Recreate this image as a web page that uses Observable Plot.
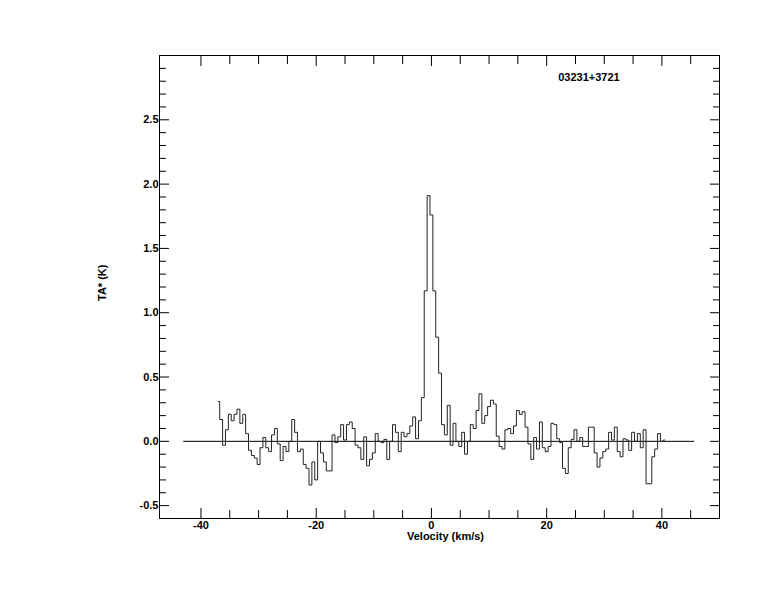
<!DOCTYPE html>
<html><head><meta charset="utf-8">
<script src="https://cdn.jsdelivr.net/npm/d3@7"></script>
<script src="https://cdn.jsdelivr.net/npm/@observablehq/plot@0.6"></script>
<style>html,body{margin:0;padding:0;background:#fff}</style>
</head><body><div id="chart"></div>
<script>
const title = "03231+3721";
const xLabel = "Velocity (km/s)";
const yLabel = "TA* (K)";

const velocity = [
 -37,-36.5,-36,-35.5,-35,-34.5,-34,-33.5,-33,-32.5,
 -32,-31.5,-31,-30.5,-30,-29.5,-29,-28.5,-28,-27.5,
 -27,-26.5,-26,-25.5,-25,-24.5,-24,-23.5,-23,-22.5,
 -22,-21.5,-21,-20.5,-20,-19.5,-19,-18.5,-18,-17.5,
 -17,-16.5,-16,-15.5,-15,-14.5,-14,-13.5,-13,-12.5,
 -12,-11.5,-11,-10.5,-10,-9.5,-9,-8.5,-8,-7.5,
 -7,-6.5,-6,-5.5,-5,-4.5,-4,-3.5,-3,-2.5,
 -2,-1.5,-1,-0.5,0,0.5,1,1.5,2,2.5,
 3,3.5,4,4.5,5,5.5,6,6.5,7,7.5,
 8,8.5,9,9.5,10,10.5,11,11.5,12,12.5,
 13,13.5,14,14.5,15,15.5,16,16.5,17,17.5,
 18,18.5,19,19.5,20,20.5,21,21.5,22,22.5,
 23,23.5,24,24.5,25,25.5,26,26.5,27,27.5,
 28,28.5,29,29.5,30,30.5,31,31.5,32,32.5,
 33,33.5,34,34.5,35,35.5,36,36.5,37,37.5,
 38,38.5,39,39.5,40,40.5
];
const antennaTemp = [
 0.31,0.17,-0.03,0.09,0.21,0.16,0.21,0.25,0.14,0.21,
 0.06,-0.07,-0.11,-0.13,-0.18,-0.05,0.03,-0.05,-0.08,0.05,
 0.10,-0.02,-0.15,-0.04,-0.08,0.00,0.17,0.07,-0.08,-0.06,
 -0.18,-0.21,-0.34,-0.16,-0.30,0.00,-0.09,-0.16,-0.23,-0.23,
 0.05,-0.01,0.035,0.13,0.01,0.13,0.15,0.10,-0.03,-0.05,
 -0.14,0.035,-0.19,-0.14,-0.09,0.06,0.00,-0.01,0.015,-0.14,
 0.00,0.13,0.07,-0.08,0.07,0.035,0.06,0.12,0.19,0.02,
 0.16,0.34,1.17,1.91,1.76,1.17,0.81,0.53,0.13,0.05,
 0.28,-0.03,0.14,0.00,-0.04,0.07,-0.10,0.00,0.13,0.10,
 0.24,0.37,0.14,0.20,0.27,0.32,0.29,0.04,-0.04,-0.06,
 0.09,0.10,0.06,0.12,0.24,0.21,0.23,0.11,-0.02,-0.14,
 0.03,-0.06,0.15,-0.05,-0.08,-0.04,0.14,0.13,0.02,-0.01,
 -0.21,-0.25,-0.05,0.015,0.09,0.00,0.03,-0.04,-0.04,0.11,
 0.11,-0.09,-0.20,-0.13,-0.08,-0.06,0.07,0.01,0.11,-0.08,
 -0.12,0.02,0.01,-0.07,0.07,0.00,0.06,-0.05,0.09,-0.33,
 -0.33,-0.12,-0.06,0.06,0.00,0.01
];

const xMajorTicks = [-40, -20, 0, 20, 40];
const xMinorTicks = [-35, -30, -25, -15, -10, -5, 5, 10, 15, 25, 30, 35, 45];
const yMajorTicks = [-0.5, 0, 0.5, 1, 1.5, 2, 2.5];
const yMinorTicks = [-0.4, -0.3, -0.2, -0.1, 0.1, 0.2, 0.3, 0.4, 0.6, 0.7, 0.8, 0.9,
  1.1, 1.2, 1.3, 1.4, 1.6, 1.7, 1.8, 1.9, 2.1, 2.2, 2.3, 2.4, 2.6, 2.7, 2.8, 2.9];
const baselineExtent = [-43, 45.7];
const titlePosition = {x: 22, y: 2.83};

const spectrum = velocity.map((v, i) => ({v, t: antennaTemp[i]}));
const blank = () => "";

const chart = Plot.plot({
  width: 774,
  height: 612,
  marginLeft: 159,
  marginRight: 55,
  marginTop: 55,
  marginBottom: 94,
  x: {domain: [-47.2, 50]},
  y: {domain: [-0.6, 3.0]},
  style: {fontFamily: "'Liberation Sans', Arial, sans-serif", fontSize: "11px", fontWeight: "bold", color: "#000", background: "#fff"},
  marks: [
    Plot.frame({stroke: "#000"}),
    Plot.axisX({anchor: "bottom", ticks: xMajorTicks, tickSize: -10, tickFormat: blank, label: null}),
    Plot.axisX({anchor: "bottom", ticks: xMinorTicks, tickSize: -8, tickFormat: blank, label: null}),
    Plot.axisX({anchor: "top", ticks: xMajorTicks, tickSize: -10, tickFormat: blank, label: null}),
    Plot.axisX({anchor: "top", ticks: xMinorTicks, tickSize: -8, tickFormat: blank, label: null}),
    Plot.axisY({anchor: "left", ticks: yMajorTicks, tickSize: -10, tickFormat: blank, label: null}),
    Plot.axisY({anchor: "left", ticks: yMinorTicks, tickSize: -7, tickFormat: blank, label: null}),
    Plot.axisY({anchor: "right", ticks: yMajorTicks, tickSize: -10, tickFormat: blank, label: null}),
    Plot.axisY({anchor: "right", ticks: yMinorTicks, tickSize: -7, tickFormat: blank, label: null}),
    Plot.axisX({anchor: "bottom", ticks: xMajorTicks, tickSize: 0, tickPadding: 3, tickFormat: d => String(d), label: null}),
    Plot.axisY({anchor: "left", ticks: yMajorTicks, tickSize: 0, tickPadding: 1, tickFormat: d => d.toFixed(1), label: null}),
    Plot.ruleY([0], {x1: baselineExtent[0], x2: baselineExtent[1], stroke: "#000", strokeWidth: 1}),
    Plot.line(spectrum, {x: "v", y: "t", curve: "step", stroke: "#222", strokeWidth: 1}),
    Plot.text([xLabel], {frameAnchor: "bottom", dx: 6, dy: 18, lineAnchor: "middle"}),
    Plot.text([yLabel], {frameAnchor: "left", dx: -57, dy: 14, rotate: -90, lineAnchor: "middle"}),
    Plot.text([title], {x: () => titlePosition.x, y: () => titlePosition.y, textAnchor: "start", lineAnchor: "middle"})
  ]
});
document.getElementById("chart").appendChild(chart);
</script>
</body></html>
